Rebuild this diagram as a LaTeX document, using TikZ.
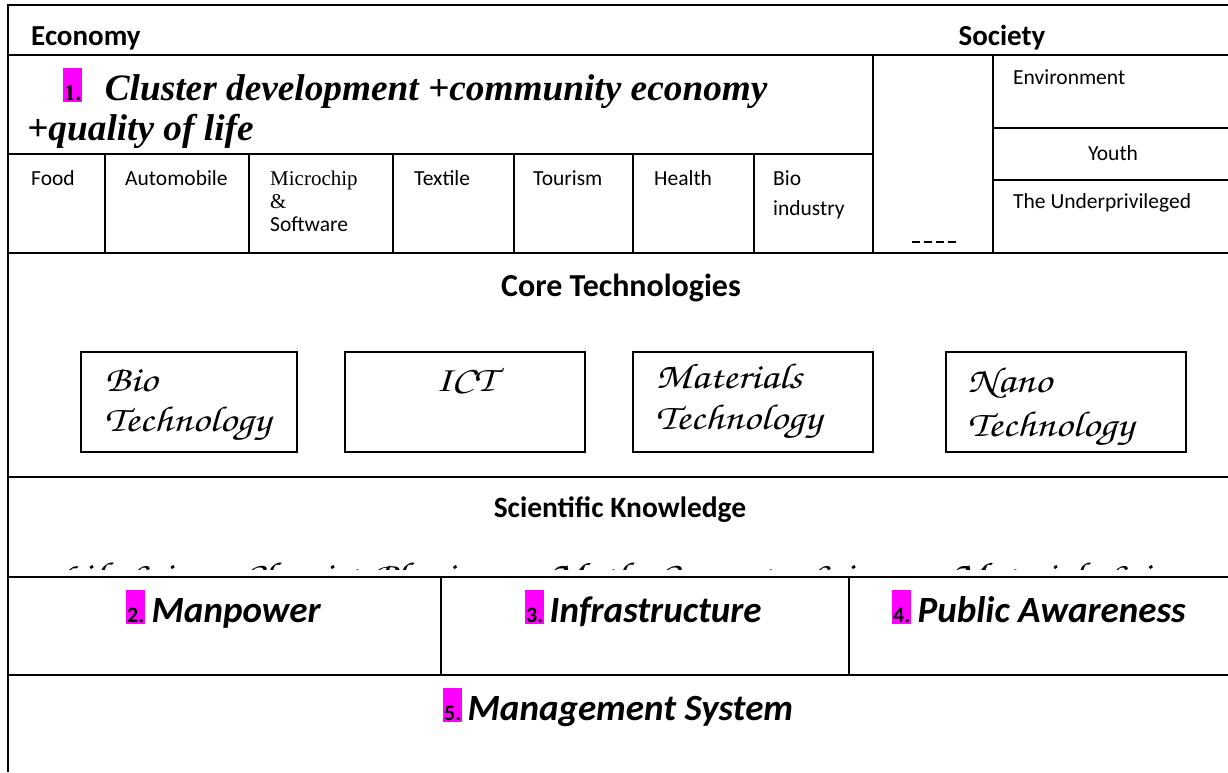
\documentclass[tikz,border=0pt]{standalone}
\usepackage{fontspec}
\setmainfont{Carlito}
\newfontfamily\timesfont{Liberation Serif}
\usetikzlibrary{positioning}
\definecolor{pinkbox}{RGB}{255,0,255}
\newcommand\handfont{\fontencoding{OT1}\fontfamily{pzc}\fontseries{mb}\fontshape{it}\fontsize{36}{40}\selectfont}
\newcommand\hw[1]{\scalebox{1.18}[1]{#1}}

\tikzset{
  gridline/.style={line width=1.6pt},
  head/.style={font=\fontsize{29}{32}\selectfont\bfseries, inner sep=0pt},
  cell/.style={font=\fontsize{21.5}{24}\selectfont, inner sep=0pt, anchor=base west},
  hand/.style={font=\handfont, inner sep=0pt, anchor=base west},
  big/.style={font=\fontsize{37}{42}\selectfont\bfseries\itshape, inner sep=0pt, anchor=base west},
  numbox/.style={fill=pinkbox, inner xsep=1pt, inner ysep=0pt, text height=32pt, text depth=2pt, anchor=base west, font=\fontsize{22}{24}\selectfont\bfseries},
  techbox/.style={draw, line width=1.3pt, minimum width=240pt, minimum height=100pt, inner sep=0pt}
}

\begin{document}
\begin{tikzpicture}[x=1pt,y=-1pt]
        \useasboundingbox (0,0) rectangle (1228,772);
        \draw[gridline] (1228,5) -- (8,5) -- (8,772);
        \draw[gridline] (8,55) -- (1228,55)  (8,253) -- (1228,253)  (8,477) -- (1228,477)  (8,577) -- (1228,577)  (8,675) -- (1228,675);
        \draw[gridline] (8,154) -- (873,154)  (873,55) -- (873,253)  (993,55) -- (993,253)  (993,128) -- (1228,128)  (993,180) -- (1228,180);
        \draw[gridline] (105,154) -- (105,253)  (249,154) -- (249,253)  (393,154) -- (393,253)  (514,154) -- (514,253)  (633,154) -- (633,253)  (754,154) -- (754,253);
        \draw[gridline] (441,577) -- (441,675)  (849,577) -- (849,675);
        \draw[line width=1.6pt, dash pattern=on 8pt off 4pt] (912,242) -- (958,242);

        \node[head, anchor=base west] (economy) at (31,45) {Economy};
        \node[head, anchor=base] (society) at (1002,45) {Society};

        \node[numbox, font=\timesfont\fontsize{23}{24}\selectfont\bfseries] (n1) at (63,100) {1.};
        \node[anchor=base west, inner sep=0pt, font=\timesfont\fontsize{37.3}{40}\selectfont\bfseries\itshape] (cluster) at ([xshift=22pt]n1.base east) {Cluster development +community economy};
        \node[anchor=base west, inner sep=0pt, font=\timesfont\fontsize{37.3}{40}\selectfont\bfseries\itshape] (quality) at (27,140) {+quality of life};

        \node[cell] (food) at (31,185) {Food};
        \node[cell] (auto) at (125,185) {Automobile};
        \node[cell, font=\timesfont\fontsize{21}{24}\selectfont] (chip) at (270,185) {Microchip};
        \node[cell, font=\timesfont\fontsize{21}{24}\selectfont] (amp) at (270,208) {\&};
        \node[cell] (soft) at (270,231) {Software};
        \node[cell] (textile) at (414,185) {Textile};
        \node[cell] (tourism) at (533,185) {Tourism};
        \node[cell] (health) at (654,185) {Health};
        \node[cell] (bio) at (773,185) {Bio};
        \node[cell] (industry) at (773,215) {industry};
        \node[cell] (env) at (1013,84) {Environment};
        \node[cell, anchor=base] (youth) at (1113,160) {Youth};
        \node[cell] (poor) at (1013,208) {The Underprivileged};

        \node[head, anchor=base, font=\fontsize{32}{34}\selectfont\bfseries] (core) at (621,296) {Core Technologies};
        \node[techbox, minimum width=216pt] (biobox) at (189,402) {};
        \node[techbox] (ictbox) at (465,402) {};
        \node[techbox] (matbox) at (753,402) {};
        \node[techbox] (nanobox) at (1066,402) {};
        \node[hand] (biot) at ([xshift=24pt,yshift=-40pt]biobox.north west) {\hw{Bio}};
        \node[hand, below=40pt of biot.base west, anchor=base west] {\hw{Technology}};
        \node[hand, anchor=base] (ict) at ([yshift=-40pt]ictbox.north) {\hw{ICT}};
        \node[hand] (matt) at ([xshift=23pt,yshift=-37pt]matbox.north west) {\hw{Materials}};
        \node[hand, below=41pt of matt.base west, anchor=base west] {\hw{Technology}};
        \node[hand] (nanot) at ([xshift=22pt,yshift=-41pt]nanobox.north west) {\hw{Nano}};
        \node[hand, below=44pt of nanot.base west, anchor=base west] {\hw{Technology}};

        \node[head, anchor=base, font=\fontsize{29.5}{32}\selectfont\bfseries] (science) at (620,517) {Scientific Knowledge};
        \begin{scope}
          \clip (8,477) rectangle (1228,569);
          \foreach \x/\w in {56/Life Science, 240/Chemistry, 372/Physics, 548/Maths, 655/Computer Science, 950/Materials Science}
            \node[hand] at (\x,587) {\hw{\w}};
        \end{scope}

        \node[numbox] (n2) at (126,622) {2.};
        \node[big] (manpower) at ([xshift=6pt]n2.base east) {Manpower};
        \node[numbox] (n3) at (525,622) {3.};
        \node[big] (infra) at ([xshift=5pt]n3.base east) {Infrastructure};
        \node[numbox] (n4) at (892,622) {4.};
        \node[big] (public) at ([xshift=6pt]n4.base east) {Public Awareness};
        \node[numbox] (n5) at (443,720) {5.};
        \node[big] (manage) at ([xshift=5pt]n5.base east) {Management System};
    \end{tikzpicture}
\end{document}
